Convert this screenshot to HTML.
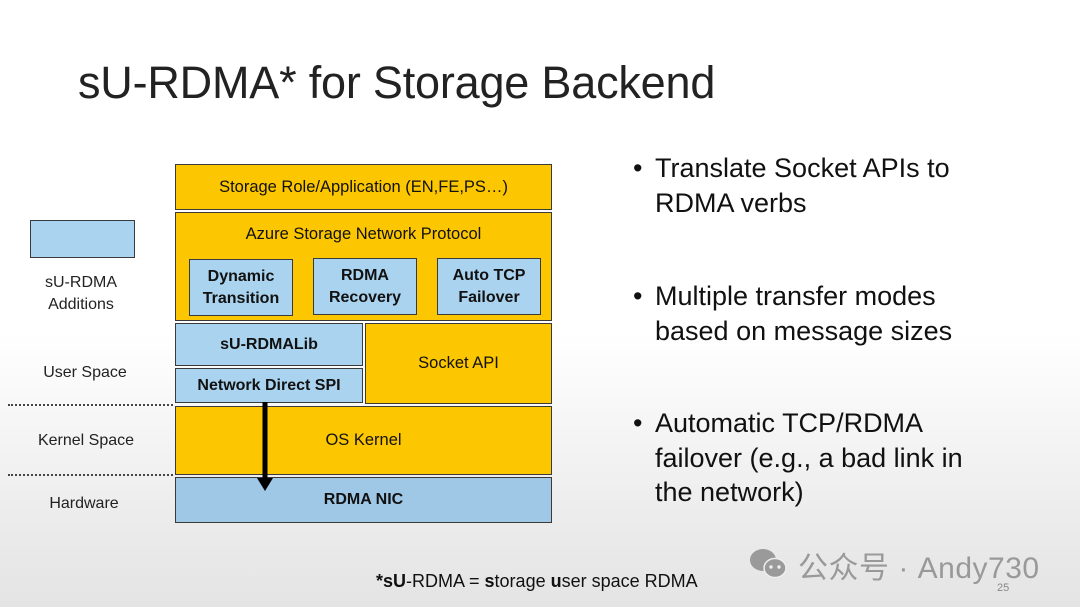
<!DOCTYPE html>
<html><head><meta charset="utf-8"><style>
body{margin:0;width:1080px;height:607px;overflow:hidden;position:relative;font-family:"Liberation Sans","Noto Sans CJK SC",sans-serif;
background:linear-gradient(to bottom,#ffffff 0%,#ffffff 55%,#ececec 85%,#e4e4e4 100%);}
.a{position:absolute;}
.b{position:absolute;box-sizing:border-box;border:1.5px solid #3a3a3a;display:flex;align-items:center;justify-content:center;text-align:center;color:#111;}
.y{background:#fcc600;}
.bl{background:#aad3ef;}
.bd{font-weight:bold;font-size:16px;line-height:22px;}
.nm{font-size:16.5px;}
.lab{position:absolute;width:160px;text-align:center;font-size:16px;color:#222;line-height:22px;}
.dot{position:absolute;left:8px;width:165px;border-top:2px dotted #444;}
.bul{position:absolute;left:633px;font-size:27px;line-height:34.5px;color:#111;}
.bul span{position:absolute;left:0;}
.bul div{margin-left:22px;}
</style></head><body>
<div class="a" style="left:78px;top:57px;font-size:45px;color:#222;letter-spacing:-0.2px;">sU-RDMA* for Storage Backend</div>

<div class="b y nm" style="left:175px;top:164px;width:377px;height:46px;">Storage Role/Application (EN,FE,PS…)</div>
<div class="b y" style="left:175px;top:212px;width:377px;height:109px;"></div>
<div class="a nm" style="left:175px;top:225px;width:377px;text-align:center;color:#111;">Azure Storage Network Protocol</div>
<div class="b bl bd" style="left:189px;top:259px;width:104px;height:57px;">Dynamic<br>Transition</div>
<div class="b bl bd" style="left:313px;top:258px;width:104px;height:57px;">RDMA<br>Recovery</div>
<div class="b bl bd" style="left:437px;top:258px;width:104px;height:57px;">Auto TCP<br>Failover</div>
<div class="b bl bd" style="left:175px;top:323px;width:188px;height:43px;">sU-RDMALib</div>
<div class="b bl bd" style="left:175px;top:368px;width:188px;height:35px;">Network Direct SPI</div>
<div class="b y nm" style="left:365px;top:323px;width:187px;height:81px;">Socket API</div>
<div class="b y nm" style="left:175px;top:406px;width:377px;height:69px;">OS Kernel</div>
<div class="b bl bd" style="left:175px;top:477px;width:377px;height:46px;background:#9fc7e6;">RDMA NIC</div>
<svg class="a" style="left:255px;top:400px;" width="22" height="95"><line x1="10" y1="2" x2="10" y2="80" stroke="#000" stroke-width="5"/><polygon points="2,78 18,78 10,91" fill="#000"/></svg>

<div class="b bl" style="left:30px;top:220px;width:105px;height:38px;"></div>
<div class="lab" style="left:1px;top:272px;">sU-RDMA<br>Additions</div>
<div class="lab" style="left:5px;top:362px;">User Space</div>
<div class="dot" style="top:404px;"></div>
<div class="lab" style="left:6px;top:430px;">Kernel Space</div>
<div class="dot" style="top:474px;"></div>
<div class="lab" style="left:4px;top:493px;">Hardware</div>

<div class="bul" style="top:151px;"><span>•</span><div>Translate Socket APIs to<br>RDMA verbs</div></div>
<div class="bul" style="top:279px;"><span>•</span><div>Multiple transfer modes<br>based on message sizes</div></div>
<div class="bul" style="top:406px;"><span>•</span><div>Automatic TCP/RDMA<br>failover (e.g., a bad link in<br>the network)</div></div>

<div class="a" style="left:376px;top:571px;font-size:18px;color:#111;"><b>*sU</b>-RDMA = <b>s</b>torage <b>u</b>ser space RDMA</div>
<svg class="a" style="left:748px;top:545px;" width="42" height="38"><ellipse cx="15" cy="15" rx="13" ry="11" fill="#9a9a9a"/><ellipse cx="27" cy="23" rx="11" ry="9.5" fill="#9a9a9a" stroke="#eee" stroke-width="1.5"/><circle cx="23" cy="22" r="1.7" fill="#eee"/><circle cx="31" cy="22" r="1.7" fill="#eee"/></svg>
<div class="a" style="left:798px;top:543px;font-size:30px;color:#999;letter-spacing:0.5px;">公众号 · Andy730</div>
<div class="a" style="left:997px;top:582px;font-size:11px;color:#888;">25</div>
</body></html>
